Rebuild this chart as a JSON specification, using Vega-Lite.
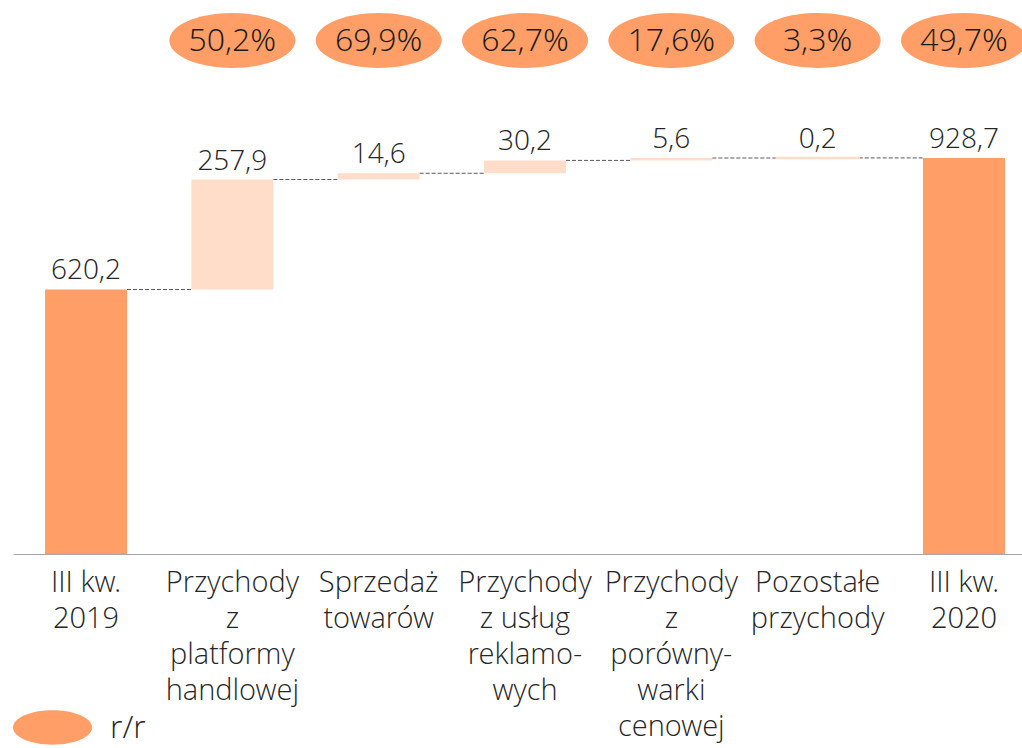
{
  "$schema": "https://vega.github.io/schema/vega-lite/v6.json",
  "autosize": {"type": "none"},
  "width": 1009,
  "height": 554,
  "padding": {"left": 13, "top": 0, "right": 0, "bottom": 194},
  "background": "white",
  "config": {
    "view": {"stroke": null},
    "font": "Open Sans",
    "locale": {"number": {"decimal": ",", "thousands": " ", "grouping": [3], "currency": ["", " zł"]}}
  },
  "data": {
    "values": [
      {"cat": "III kw. 2019", "lo": 0, "hi": 620.2, "delta": 620.2, "kind": "total", "next": "Przychody z platformy handlowej", "rr": null},
      {"cat": "Przychody z platformy handlowej", "lo": 620.2, "hi": 878.1, "delta": 257.9, "kind": "change", "next": "Sprzedaż towarów", "rr": 0.502},
      {"cat": "Sprzedaż towarów", "lo": 878.1, "hi": 892.7, "delta": 14.6, "kind": "change", "next": "Przychody z usług reklamowych", "rr": 0.699},
      {"cat": "Przychody z usług reklamowych", "lo": 892.7, "hi": 922.9, "delta": 30.2, "kind": "change", "next": "Przychody z porównywarki cenowej", "rr": 0.627},
      {"cat": "Przychody z porównywarki cenowej", "lo": 922.9, "hi": 928.5, "delta": 5.6, "kind": "change", "next": "Pozostałe przychody", "rr": 0.176},
      {"cat": "Pozostałe przychody", "lo": 928.5, "hi": 928.7, "delta": 0.2, "kind": "change", "next": "III kw. 2020", "rr": 0.033},
      {"cat": "III kw. 2020", "lo": 0, "hi": 928.7, "delta": 928.7, "kind": "total", "next": null, "rr": 0.497}
    ]
  },
  "encoding": {
    "x": {
      "field": "cat",
      "type": "nominal",
      "sort": null,
      "scale": {"type": "band", "paddingInner": 0.44, "paddingOuter": 0.1677, "align": 0.653},
      "axis": {
        "title": null,
        "labelAngle": 0,
        "ticks": false,
        "domainColor": "#A6A6A6",
        "domainWidth": 1.2,
        "labelFont": "Open Sans Light, Open Sans",
        "labelFontWeight": 300,
        "labelFontSize": 29,
        "labelLineHeight": 36,
        "labelColor": "#262626",
        "labelPadding": 14,
        "labelLimit": 0,
        "labelOverlap": false,
        "labelBound": false,
        "labelExpr": "split(datum.label == 'III kw. 2019' ? 'III kw.|2019' : datum.label == 'III kw. 2020' ? 'III kw.|2020' : datum.label == 'Przychody z platformy handlowej' ? 'Przychody|z|platformy|handlowej' : datum.label == 'Sprzedaż towarów' ? 'Sprzedaż|towarów' : datum.label == 'Przychody z usług reklamowych' ? 'Przychody|z usług|reklamo-|wych' : datum.label == 'Przychody z porównywarki cenowej' ? 'Przychody|z|porówny-|warki|cenowej' : 'Pozostałe|przychody', '|')"
      }
    }
  },
  "layer": [
    {
      "transform": [{"filter": "datum.next != null"}],
      "mark": {"type": "rule", "strokeDash": [4, 2], "color": "#595959", "strokeWidth": 1, "xOffset": 41, "x2Offset": -41},
      "encoding": {
        "x2": {"field": "next"},
        "y": {"field": "hi", "type": "quantitative", "scale": {"domain": [0, 1299], "nice": false, "zero": true}, "axis": null}
      }
    },
    {
      "mark": {"type": "bar"},
      "encoding": {
        "y": {"field": "lo", "type": "quantitative", "scale": {"domain": [0, 1299], "nice": false}, "axis": null},
        "y2": {"field": "hi"},
        "color": {"condition": {"test": "datum.kind == 'total'", "value": "#FF9E66"}, "value": "#FFDDC9"},
        "stroke": {"condition": {"test": "datum.kind == 'total'", "value": "#FF9E66"}, "value": "#FFDDC9"},
        "strokeWidth": {"condition": {"test": "abs(datum.hi - datum.lo) < 1", "value": 2.5}, "value": 0}
      }
    },
    {
      "mark": {"type": "text", "baseline": "alphabetic", "dy": -10, "fontSize": 28, "fontWeight": 300, "color": "#262626", "font": "Open Sans Light, Open Sans"},
      "encoding": {
        "y": {"field": "hi", "type": "quantitative", "axis": null},
        "text": {"field": "delta", "type": "quantitative", "format": ".1f"}
      }
    },
    {
      "transform": [{"filter": "datum.rr != null"}],
      "mark": {"type": "point", "filled": true, "opacity": 1, "size": 15876, "strokeWidth": 0, "shape": "M-1,0A1,0.435,0,1,0,1,0A1,0.435,0,1,0,-1,0Z"},
      "encoding": {
        "y": {"datum": 1204, "type": "quantitative"},
        "color": {
          "datum": "r/r",
          "type": "nominal",
          "scale": {"domain": ["r/r"], "range": ["#FF9E66"]},
          "legend": {
            "title": null,
            "orient": "none",
            "legendX": 0,
            "legendY": 688,
            "padding": 0,
            "symbolType": "M-1,0A1,0.435,0,1,0,1,0A1,0.435,0,1,0,-1,0Z",
            "symbolSize": 6241,
            "symbolStrokeWidth": 0,
            "symbolOpacity": 1,
            "labelFont": "Open Sans Light, Open Sans",
            "labelFontWeight": 300,
            "labelFontSize": 32,
            "labelBaseline": "middle",
            "labelColor": "#262626",
            "labelOffset": 18
          }
        }
      }
    },
    {
      "transform": [{"filter": "datum.rr != null"}],
      "mark": {"type": "text", "baseline": "middle", "fontSize": 32, "fontWeight": 300, "color": "#1a1a1a", "font": "Open Sans Light, Open Sans"},
      "encoding": {
        "y": {"datum": 1204, "type": "quantitative"},
        "text": {"field": "rr", "type": "quantitative", "format": ".1%"}
      }
    }
  ]
}
